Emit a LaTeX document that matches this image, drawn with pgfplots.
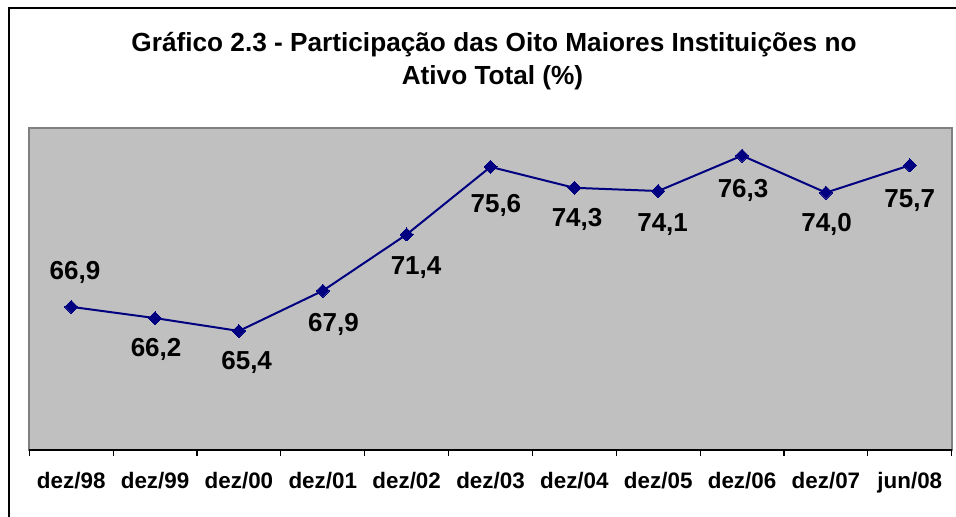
\documentclass[border=0pt]{standalone}
\usepackage{fontspec}
\setmainfont{Liberation Sans}
\usepackage{pgfplots}
\usepackage{pgfplotstable}
\pgfplotsset{compat=1.18}
\definecolor{plotbg}{HTML}{C0C0C0}
\definecolor{navyline}{HTML}{000080}
\definecolor{bordergray}{HTML}{808080}
\pgfplotstableread{
x y dx dy lbl
0 66.9 1.85 13.75 66,9
1 66.2 0.5 -19.0 66,2
2 65.4 3.85 -19.1 65,4
3 67.9 5.35 -20.25 67,9
4 71.4 4.7 -19.9 71,4
5 75.6 2.7 -22.6 75,6
6 74.3 1.35 -19.25 74,3
7 74.1 2.2 -20.0 74,1
8 76.3 0.5 -20.9 76,3
9 74.0 0.35 -19.55 74,0
10 75.7 0.0 -20.9 75,7
}\datatable
\begin{document}
\begin{tikzpicture}
\useasboundingbox (-14.65pt,-33.5pt) rectangle (463.35pt,225pt);
\draw[black, line width=1pt] (-9.9pt,-40pt) -- (-9.9pt,220.75pt) -- (470pt,220.75pt);
\begin{axis}[
  at={(0,0)}, anchor=south west,
  scale only axis, width=461.2pt, height=160.85pt,
  xmin=-0.5, xmax=10.5, ymin=58, ymax=78,
  axis background/.style={fill=plotbg},
  axis line style={bordergray, line width=1pt},
  ytick=\empty,
  xtick={0,...,10},
  xticklabels={dez/98,dez/99,dez/00,dez/01,dez/02,dez/03,dez/04,dez/05,dez/06,dez/07,jun/08},
  major tick length=0pt,
  minor xtick={-0.5,0.5,...,10.5},
  minor tick length=3pt,
  tick align=outside,
  xtick pos=bottom,
  minor tick style={black, line width=0.6pt},
  xticklabel style={font=\fontsize{11.2}{13}\selectfont\bfseries, anchor=base, yshift=-19.5pt},
  clip=false,
]
\draw[black, line width=1pt] (rel axis cs:0,0) -- (rel axis cs:1,0);
\addplot[navyline, line width=1pt, mark=square*, mark size=2.3pt,
  mark options={rotate=45, fill=navyline, draw=navyline, line width=0pt},
  visualization depends on={\thisrow{dx} \as \dx},
  visualization depends on={\thisrow{dy} \as \dy},
  point meta=explicit symbolic,
  nodes near coords,
  every node near coord/.style={anchor=base, xshift=\dx pt, yshift=\dy pt,
    font=\fontsize{13}{15}\selectfont\bfseries, text=black, inner sep=0pt},
] table[x=x, y=y, meta=lbl] {\datatable};
\end{axis}
\node[anchor=base, font=\fontsize{13.1}{15}\selectfont\bfseries] at (232.35pt,199pt) {Gráfico 2.3 - Participação das Oito Maiores Instituições no};
\node[anchor=base, font=\fontsize{13.1}{15}\selectfont\bfseries] at (231.6pt,182.5pt) {Ativo Total (\%)};
\end{tikzpicture}
\end{document}
